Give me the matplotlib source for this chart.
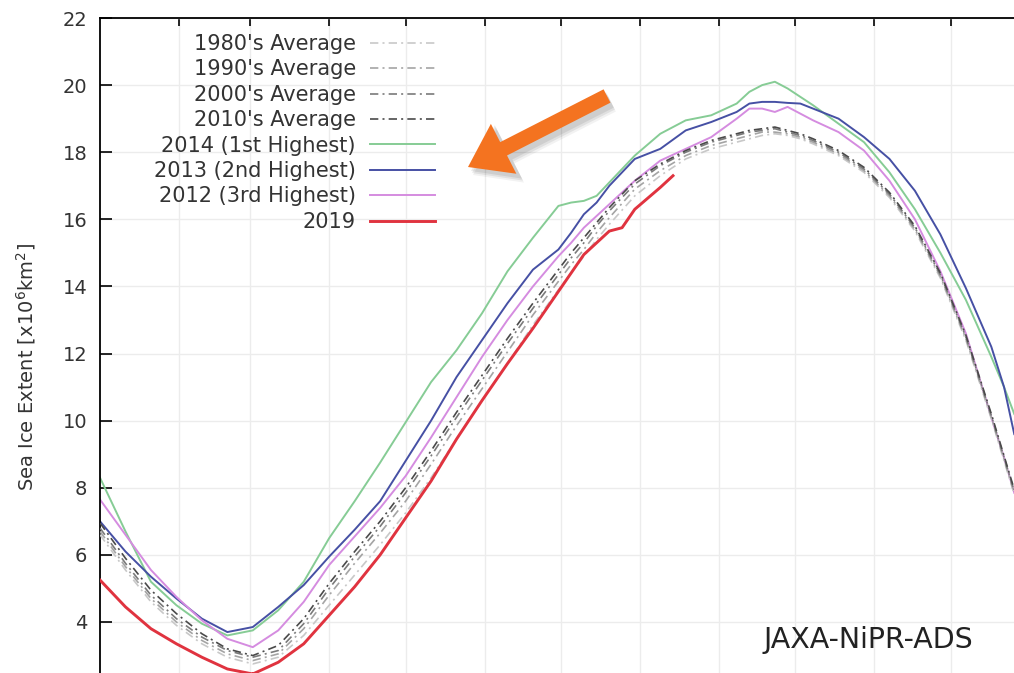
import matplotlib.pyplot as plt
from matplotlib.patches import FancyArrow
from matplotlib.transforms import IdentityTransform

# day of year (0 = Jan 1)
days = [0, 10, 20, 30, 40, 50, 60, 70, 80, 90, 100, 110, 120, 130, 140, 150, 160, 170, 180,
        185, 190, 195, 200, 210, 220, 230, 240, 250, 255, 260, 265, 270, 275, 280,
        290, 300, 310, 320, 330, 340, 350, 355, 359]

avg_1980s = [6.6, 5.55, 4.6, 3.9, 3.35, 2.95, 2.75, 2.95, 3.6, 4.5, 5.4, 6.3, 7.25, 8.3, 9.45, 10.6, 11.7, 12.85, 13.9,
             14.4, 14.9, 15.4, 15.85, 16.7, 17.3, 17.8, 18.1, 18.3, 18.4, 18.5, 18.55, 18.5, 18.4, 18.25,
             17.9, 17.4, 16.65, 15.65, 14.25, 12.4, 10.05, 8.8, 7.8]
avg_1990s = [6.7, 5.65, 4.7, 4.0, 3.45, 3.05, 2.85, 3.05, 3.8, 4.8, 5.75, 6.65, 7.6, 8.7, 9.85, 10.95, 12.05, 13.15, 14.15,
             14.65, 15.1, 15.6, 16.05, 16.9, 17.45, 17.9, 18.2, 18.4, 18.5, 18.6, 18.6, 18.55, 18.45, 18.3,
             17.95, 17.45, 16.7, 15.7, 14.3, 12.45, 10.1, 8.85, 7.85]
avg_2000s = [6.8, 5.75, 4.8, 4.1, 3.55, 3.15, 2.95, 3.15, 3.95, 5.0, 5.95, 6.85, 7.85, 8.95, 10.1, 11.2, 12.3, 13.35, 14.35,
             14.85, 15.3, 15.8, 16.25, 17.05, 17.6, 18.0, 18.3, 18.5, 18.6, 18.65, 18.7, 18.6, 18.5, 18.35,
             18.0, 17.5, 16.75, 15.75, 14.35, 12.5, 10.15, 8.9, 7.9]
avg_2010s = [6.95, 5.9, 4.95, 4.25, 3.65, 3.2, 3.0, 3.3, 4.1, 5.15, 6.1, 7.0, 8.0, 9.1, 10.25, 11.35, 12.45, 13.5, 14.5,
             15.0, 15.45, 15.9, 16.35, 17.15, 17.65, 18.05, 18.35, 18.55, 18.65, 18.7, 18.75, 18.65, 18.55, 18.4,
             18.05, 17.55, 16.8, 15.8, 14.4, 12.55, 10.2, 8.95, 7.95]
ext_2014 = [8.3, 6.7, 5.2, 4.5, 3.95, 3.6, 3.75, 4.35, 5.2, 6.5, 7.6, 8.75, 9.95, 11.15, 12.1, 13.2, 14.45, 15.45, 16.4,
            16.5, 16.55, 16.7, 17.1, 17.9, 18.55, 18.95, 19.1, 19.45, 19.8, 20.0, 20.1, 19.9, 19.65, 19.4,
            18.85, 18.3, 17.4, 16.3, 15.0, 13.6, 11.9, 11.0, 10.2]
ext_2013 = [7.0, 6.1, 5.35, 4.7, 4.1, 3.7, 3.85, 4.45, 5.1, 5.95, 6.75, 7.6, 8.8, 10.0, 11.3, 12.4, 13.5, 14.5, 15.1,
            15.6, 16.15, 16.5, 17.0, 17.8, 18.1, 18.65, 18.9, 19.2, 19.45, 19.5, 19.5, 19.47, 19.45, 19.3,
            19.0, 18.45, 17.8, 16.85, 15.55, 13.95, 12.2, 11.0, 9.6]
ext_2012 = [7.65, 6.6, 5.55, 4.75, 4.05, 3.5, 3.25, 3.75, 4.6, 5.7, 6.55, 7.4, 8.35, 9.5, 10.7, 11.9, 13.0, 14.0, 14.9,
            15.3, 15.75, 16.1, 16.45, 17.15, 17.75, 18.1, 18.45, 19.0, 19.3, 19.3, 19.2, 19.35, 19.15, 18.95,
            18.6, 18.05, 17.15, 16.0, 14.45, 12.6, 10.1, 8.9, 7.85]

days_2019 = [0, 10, 20, 30, 40, 50, 60, 70, 80, 90, 100, 110, 120, 130, 140, 150, 160, 170, 180,
             190, 200, 205, 210, 220, 225]
ext_2019 = [5.25, 4.45, 3.8, 3.35, 2.95, 2.6, 2.45, 2.8, 3.35, 4.2, 5.05, 6.0, 7.1, 8.2, 9.45, 10.6, 11.7, 12.75, 13.85,
            14.95, 15.65, 15.75, 16.3, 16.95, 17.3]

month_starts = [31, 59, 90, 120, 151, 181, 212, 243, 273, 304, 334]
yticks = [4, 6, 8, 10, 12, 14, 16, 18, 20, 22]

dashdot = (5, 2.5, 1.2, 2.5)

fig = plt.figure(figsize=(10.14, 6.73), dpi=100)
ax = fig.add_axes([100 / 1014, 0, 914 / 1014, 655 / 673])

# decade averages
ax.plot(days, avg_1980s, color='#c8c8c8', lw=1.2, dashes=dashdot, label="1980's Average", zorder=3)
ax.plot(days, avg_1990s, color='#a4a4a4', lw=1.2, dashes=dashdot, label="1990's Average", zorder=3)
ax.plot(days, avg_2000s, color='#7a7a7a', lw=1.2, dashes=dashdot, label="2000's Average", zorder=3)
ax.plot(days, avg_2010s, color='#4a4a4a', lw=1.2, dashes=dashdot, label="2010's Average", zorder=3)

# individual years
ax.plot(days, ext_2014, color='#86cc95', lw=1.4, label='2014 (1st Highest)', zorder=2)
ax.plot(days, ext_2013, color='#4650a4', lw=1.4, label='2013 (2nd Highest)', zorder=2)
ax.plot(days, ext_2012, color='#d58ce0', lw=1.4, label='2012 (3rd Highest)', zorder=2)
ax.plot(days_2019, ext_2019, color='#e0333f', lw=2.1, label='2019', zorder=4)

ax.set_xlim(0, 358.9)
ax.set_ylim(2.48, 22)
ax.set_xticks(month_starts)
ax.set_yticks(yticks)
ax.set_xticklabels([])
ax.grid(True, color='#ececec', lw=1.0)
ax.set_axisbelow(True)

for side in ['right', 'bottom']:
    ax.spines[side].set_visible(False)
for side in ['left', 'top']:
    ax.spines[side].set_linewidth(1.3)

ax.tick_params(axis='x', direction='in', top=True, bottom=False, length=6, width=1.2)
ax.tick_params(axis='y', direction='in', left=True, right=False, length=8.5, width=1.2,
               labelsize=14, labelcolor='#333333', pad=9)

ax.set_ylabel('Sea Ice Extent [x10$^6$km$^2$]', fontsize=14, color='#333333')
ax.yaxis.set_label_coords(-0.068, 0.467)

leg = ax.legend(loc='upper right', bbox_to_anchor=(0.3665, 0.9756), frameon=False,
                markerfirst=False, fontsize=15, labelspacing=0.26, handlelength=3.1,
                handletextpad=0.7, borderpad=0, borderaxespad=0)
for t in leg.get_texts():
    t.set_color('#333333')

ax.text(0.7254, 0.038, 'JAXA-NiPR-ADS', transform=ax.transAxes, fontsize=20.5,
        color='#222222', ha='left', va='baseline')

# orange arrow pointing at the legend, with a soft shadow
tail = (607, 673 - 96)
tip = (468, 673 - 167)
for off, a in [((5, -8), 0.05), ((4, -6), 0.07), ((3, -4), 0.08)]:
    sh = FancyArrow(tail[0] + off[0], tail[1] + off[1], tip[0] - tail[0], tip[1] - tail[1],
                    width=17, head_width=60, head_length=42, length_includes_head=True,
                    color='#000000', alpha=a, lw=0, transform=IdentityTransform())
    fig.add_artist(sh)
arrow = FancyArrow(tail[0], tail[1], tip[0] - tail[0], tip[1] - tail[1],
                   width=15, head_width=56, head_length=40, length_includes_head=True,
                   color='#f47320', lw=0, transform=IdentityTransform())
fig.add_artist(arrow)

fig.savefig('out.png', dpi=100)
